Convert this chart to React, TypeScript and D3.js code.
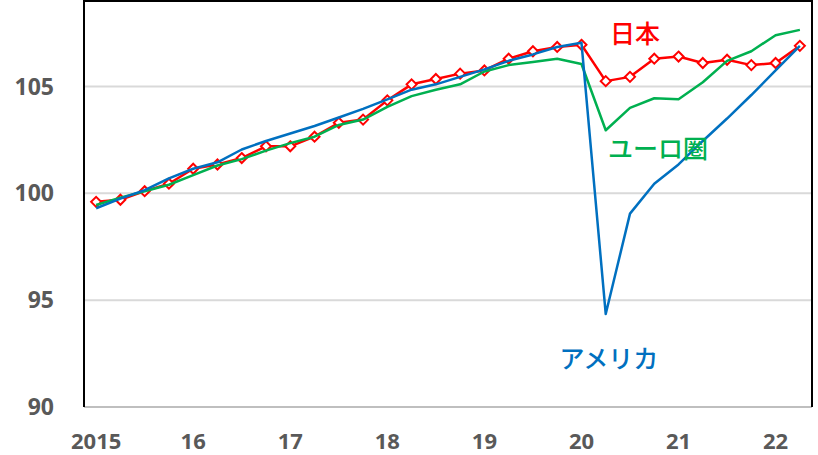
import React, { useRef, useEffect } from 'react';
import { select, scalePoint, scaleLinear, line } from 'd3';

// quarters 2015Q1 .. 2022Q2
const quarters: string[] = [];
for (let y = 2015; y <= 2022; y++) {
  for (let q = 1; q <= 4; q++) {
    if (y === 2022 && q > 2) break;
    quarters.push(`${y}Q${q}`);
  }
}

const japan = [99.6, 99.7, 100.1, 100.45, 101.15, 101.35, 101.65, 102.2, 102.2, 102.65, 103.3, 103.45, 104.35, 105.1, 105.35, 105.6, 105.75, 106.3, 106.65, 106.85, 106.95, 105.25, 105.45, 106.3, 106.4, 106.1, 106.25, 106.0, 106.1, 106.9];
const usa = [99.3, 99.75, 100.15, 100.7, 101.15, 101.45, 102.05, 102.45, 102.8, 103.15, 103.55, 103.95, 104.4, 104.85, 105.1, 105.45, 105.8, 106.2, 106.5, 106.85, 107.05, 94.35, 99.05, 100.45, 101.35, 102.45, 103.5, 104.6, 105.75, 106.9];
const euro = [99.45, 99.8, 100.1, 100.4, 100.85, 101.3, 101.6, 102.0, 102.35, 102.65, 103.2, 103.45, 104.05, 104.55, 104.85, 105.1, 105.7, 106.0, 106.15, 106.3, 106.05, 102.95, 104.0, 104.45, 104.4, 105.2, 106.2, 106.65, 107.4, 107.65];

const yTicks = [90, 95, 100, 105];
const xTickLabels = ['2015', '16', '17', '18', '19', '20', '21', '22'];

const RED = '#FF0000';
const GREEN = '#00B050';
const BLUE = '#0070C0';

export default function App() {
  const svgRef = useRef<SVGSVGElement>(null);

  useEffect(() => {
    const svg = select(svgRef.current);
    svg.selectAll('*').remove();

    const left = 84, right = 812, top = 1, bottom = 407;

    const xScale = scalePoint<string>()
      .domain(quarters)
      .range([left, right])
      .padding(0.5);

    const yScale = scaleLinear()
      .domain([90, 109])
      .range([bottom, top]);

    // gridlines
    svg.append('g')
      .selectAll('line')
      .data(yTicks)
      .join('line')
        .attr('x1', left)
        .attr('x2', right)
        .attr('y1', d => yScale(d))
        .attr('y2', d => yScale(d))
        .attr('stroke', d => d === 90 ? '#bfbfbf' : '#d9d9d9')
        .attr('stroke-width', 2);

    // frame (left, top, right)
    svg.append('path')
      .attr('d', `M${left},${bottom}V${top}H${right}V${bottom}`)
      .attr('fill', 'none')
      .attr('stroke', '#000')
      .attr('stroke-width', 2);

    // y labels
    svg.append('g')
      .selectAll('text')
      .data(yTicks)
      .join('text')
        .attr('x', 54)
        .attr('y', d => yScale(d))
        .attr('dy', '0.35em')
        .attr('text-anchor', 'end')
        .attr('font-family', '"Open Sans", sans-serif')
        .attr('font-weight', 700)
        .attr('font-size', 23)
        .attr('fill', '#595959')
        .text(d => d);

    // x labels on Q1 of each year
    svg.append('g')
      .selectAll('text')
      .data(xTickLabels)
      .join('text')
        .attr('x', (d, i) => xScale(quarters[i * 4]) as number)
        .attr('y', 449)
        .attr('text-anchor', 'middle')
        .attr('font-family', '"Open Sans", sans-serif')
        .attr('font-weight', 700)
        .attr('font-size', 22)
        .attr('fill', '#595959')
        .text(d => d);

    const lineGen = line<number>()
      .x((d, i) => xScale(quarters[i]) as number)
      .y(d => yScale(d));

    const series = [
      { values: japan, color: RED },
      { values: euro, color: GREEN },
      { values: usa, color: BLUE },
    ];

    series.forEach(s => {
      svg.append('path')
        .datum(s.values)
        .attr('d', lineGen)
        .attr('fill', 'none')
        .attr('stroke', s.color)
        .attr('stroke-width', 2.5)
        .attr('stroke-linejoin', 'round');
      if (s.color === RED) {
        svg.append('g')
          .selectAll('path')
          .data(japan)
          .join('path')
            .attr('transform', (d, i) => `translate(${xScale(quarters[i])},${yScale(d)})`)
            .attr('d', 'M0,-5L5,0L0,5L-5,0Z')
            .attr('fill', '#fff')
            .attr('stroke', RED)
            .attr('stroke-width', 2);
      }
    });

    // series labels
    const labels = [
      { text: '日本', x: 635, y: 43, color: RED },
      { text: 'ユーロ圏', x: 658, y: 158, color: GREEN },
      { text: 'アメリカ', x: 609, y: 368, color: BLUE },
    ];
    svg.append('g')
      .selectAll('text')
      .data(labels)
      .join('text')
        .attr('x', d => d.x)
        .attr('y', d => d.y)
        .attr('text-anchor', 'middle')
        .attr('font-family', '"Noto Sans CJK JP", sans-serif')
        .attr('font-weight', 500)
        .attr('font-size', 25)
        .attr('fill', d => d.color)
        .text(d => d.text);
  }, []);

  return (
    <div style={{ position: 'absolute', left: 0, top: 0 }}>
      <svg ref={svgRef} width={818} height={455} style={{ display: 'block', background: '#fff' }} />
    </div>
  );
}
